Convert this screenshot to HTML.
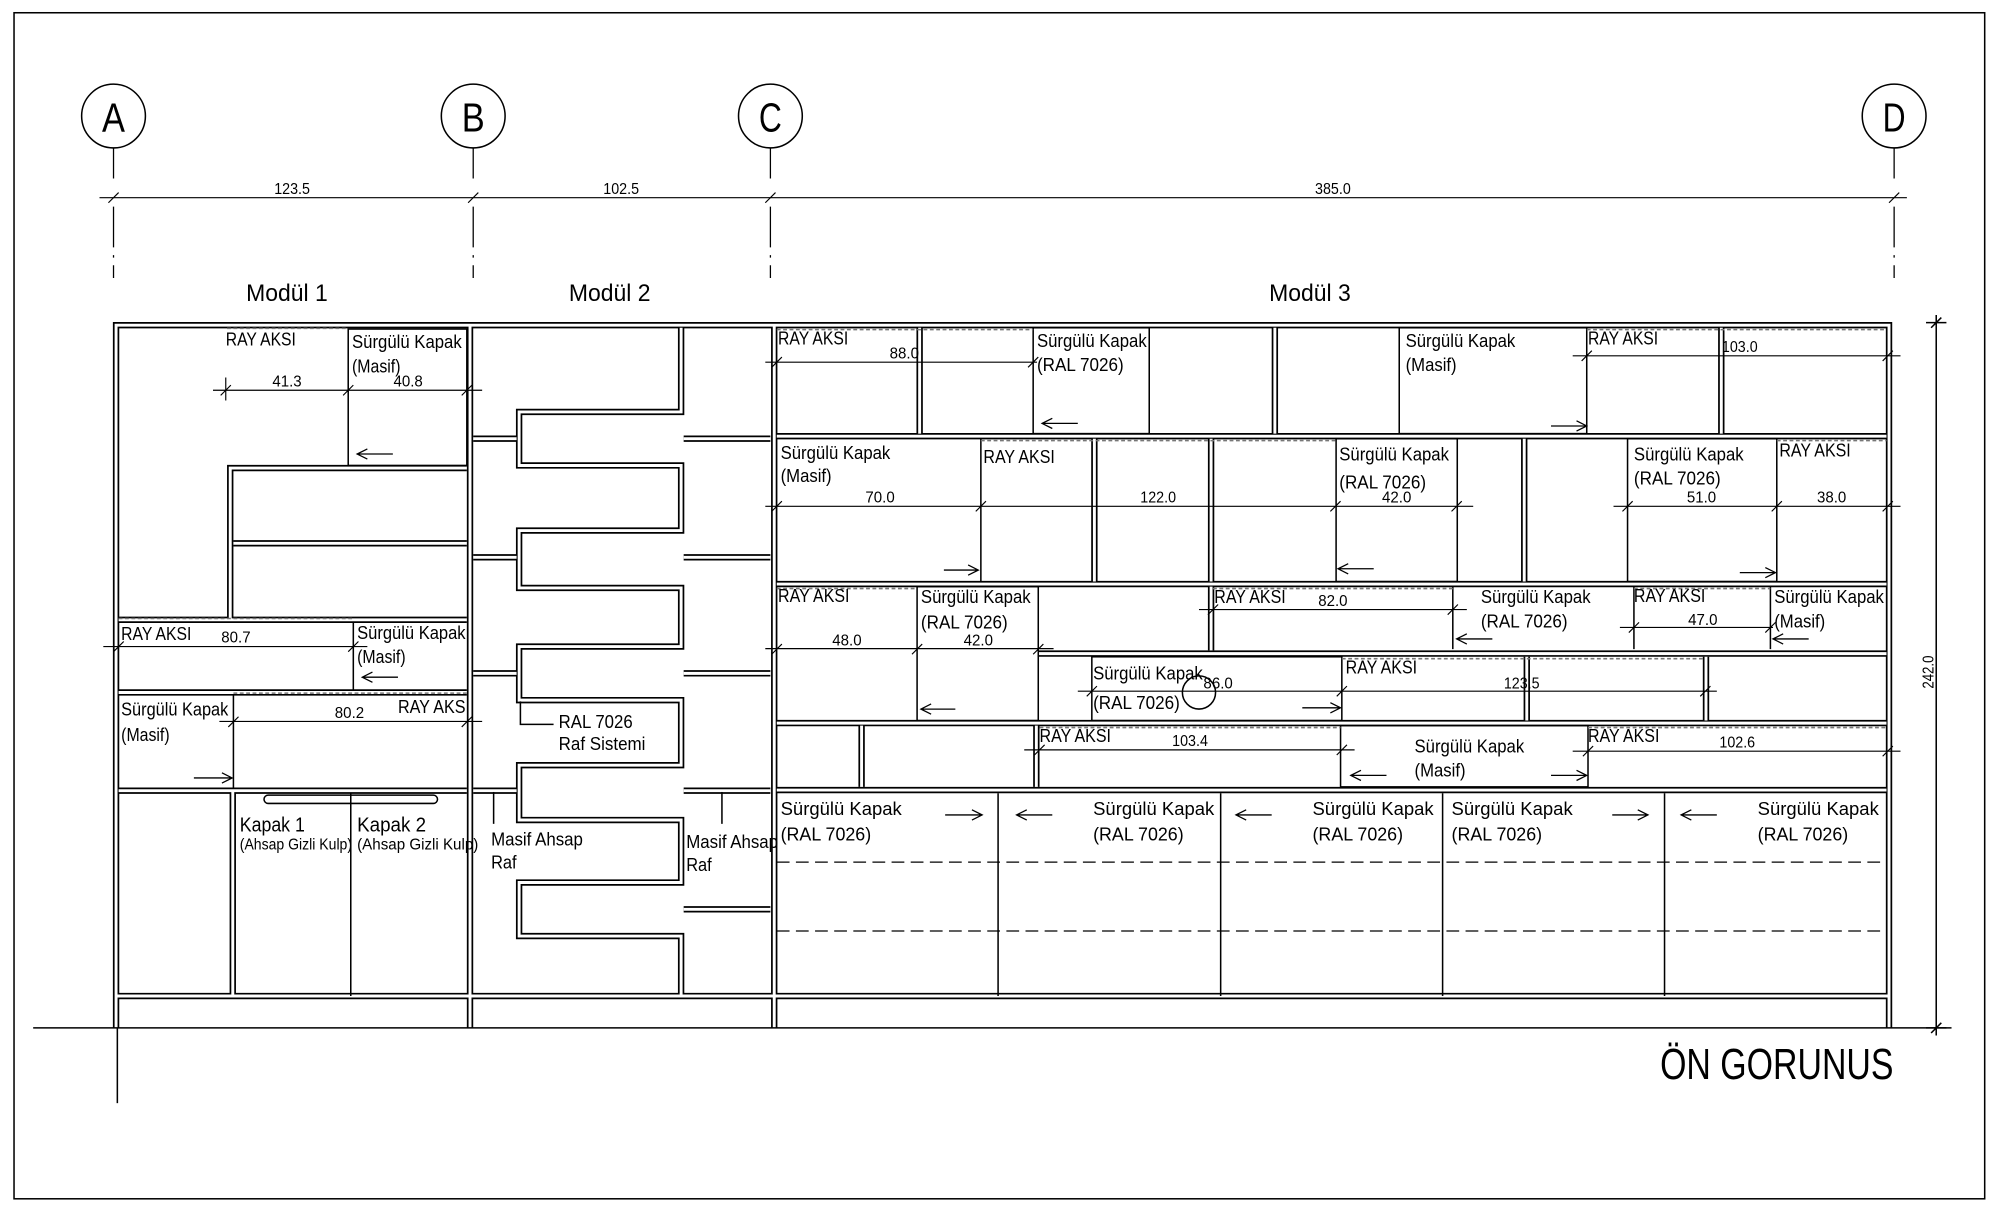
<!DOCTYPE html>
<html><head><meta charset="utf-8"><style>
html,body{margin:0;padding:0;background:#fff;}
svg{display:block;}
text{font-family:"Liberation Sans Narrow","Liberation Sans",sans-serif;fill:#000;}
.t{font-size:14.5px;}
.n{font-size:12px;}
.s{font-size:12px;}
</style></head><body>
<svg width="2000" height="1209" viewBox="0 0 1568 948" preserveAspectRatio="none" xmlns="http://www.w3.org/2000/svg">
<rect x="0" y="0" width="1568" height="948" fill="#fff"/>
<rect x="11" y="10" width="1545" height="930" fill="none" stroke="#000" stroke-width="1.2"/>
<defs>
<g id="dbl" fill="none">
<path d="M91 806V255H1481V806"/>
<path d="M368.5 255V806"/>
<path d="M607 255V806"/>
<path d="M91 781H1481"/>
<path d="M93 486H366M93 543H366M93 620H366"/>
<path d="M366 367H180.5V486"/>
<path d="M183 426H366"/>
<path d="M182.5 620V781"/>
<path d="M534 257V323H407V365H534V416H407V461H534V507H407V549H534V600H407V643H534V692H407V734H534V780"/>
<path d="M371 344H405M371 437H405M371 528H405M371 620H405"/>
<path d="M536 344H604M536 437H604M536 528H604M536 620H604M536 713H604"/>
<path d="M609 342H1479M609 458H1479M609 567H1479M609 619.5H1479M814 512.5H1479"/>
<path d="M721 257V340M999.5 257V340M1349.5 257V340"/>
<path d="M858 344V456M949.5 344V456M1195 344V456"/>
<path d="M949.5 460V510"/>
<path d="M1197 515V565M1337.5 515V565"/>
<path d="M675.5 569V617M812.5 569V617"/>
</g>
</defs>
<use href="#dbl" stroke="#000" stroke-width="5"/>
<use href="#dbl" stroke="#fff" stroke-width="2.3"/>

<g fill="none" stroke="#000" stroke-width="1.2">
<path d="M26 806H1530"/>
<path d="M92 806V865"/>
<g stroke-width="1" stroke-dasharray="24 22 32 6 2 6">
<path d="M89 116V218M371 116V218M604 116V218M1485 116V218"/>
</g>
<circle cx="89" cy="91" r="25"/>
<circle cx="371" cy="91" r="25"/>
<circle cx="604" cy="91" r="25"/>
<circle cx="1485" cy="91" r="25"/>
<rect x="273" y="258" width="93" height="107"/>
<path d="M277 488V541"/>
<path d="M183 545V618"/>
<path d="M275 622V781"/>
<rect x="207" y="623.5" width="136" height="6.5" rx="3.2"/>
<path d="M408 550V568H434"/>
<path d="M387 621V646"/>
<path d="M566 621V646"/>
<rect x="810" y="257" width="91" height="83"/>
<rect x="1097" y="257" width="147" height="83"/>
<path d="M769 344V456"/>
<rect x="1047.5" y="344" width="95" height="112"/>
<rect x="1276" y="344" width="117" height="112"/>
<rect x="719" y="460" width="95" height="105"/>
<path d="M1139 460V509M1281 460V509M1388 460V509"/>
<rect x="856" y="515" width="196" height="50"/>
<rect x="1051" y="569" width="194" height="48"/>
<path d="M782.5 622V781M957 622V781M1131 622V781M1305 622V781"/>
<ellipse cx="940" cy="543" rx="13" ry="13"/>
<path d="M1518 247V812M1510 253H1526M1510 806H1526M1514 257L1522 249M1514 810L1522 802"/>
</g>
<g fill="none" stroke="#000" stroke-width="1" stroke-dasharray="10 5">
<path d="M609 676H1479M609 730H1479"/>
</g>
<g fill="none" stroke="#777" stroke-width="1.2" stroke-dasharray="3 2">
<path d="M178 257.5H273M93 485H277M183 543.5H366"/>
<path d="M609 258.5H810M1244 258.5H1479M769 345.5H1047M1393 345.5H1479"/>
<path d="M609 461.5H719M951 461.5H1139M1281 461.5H1388M1052 516.5H1335M815 570.5H1051M1245 570.5H1479"/>
</g>

<g fill="none" stroke="#000" stroke-width="0.9">
<path d="M78 155H1495"/>
<path d="M85 159L93 151M367 159L375 151M600 159L608 151M1481 159L1489 151"/>
<path d="M167 306H378M177 296V314M173 310L181 302M269 310L277 302M362 310L370 302"/>
<path d="M81 507H288M89 511L97 503M273 511L281 503"/>
<path d="M172 565.7H378M179 570L187 562M362 570L370 562"/>
<path d="M600 284H813M605 288L613 280M806 288L814 280"/>
<path d="M600 397H1155M605 401L613 393M765 401L773 393M1043 401L1051 393M1138 401L1146 393"/>
<path d="M1265 397H1490M1272 401L1280 393M1389 401L1397 393M1476 401L1484 393"/>
<path d="M1233 279H1490M1240 283L1248 275M1476 283L1484 275"/>
<path d="M600 508.6H826M605 513L613 505M715 513L723 505M810 513L818 505"/>
<path d="M940 478H1150M947 482L955 474M1135 482L1143 474"/>
<path d="M1270 492H1390M1277 496L1285 488M1384 496L1392 488"/>
<path d="M845 542H1346M852 546L860 538M1048 546L1056 538M1333 546L1341 538"/>
<path d="M803 588H1062M811 592L819 584M1048 592L1056 584"/>
<path d="M1233 589H1490M1241 593L1249 585M1476 593L1484 585"/>
</g>

<g fill="none" stroke="#000" stroke-width="1">
<path d="M308 356H280M288 352L280 356L288 360"/>
<path d="M312 531H284M292 527L284 531L292 535"/>
<path d="M152 610H182M174 606L182 610L174 614"/>
<path d="M845 332H817M825 328L817 332L825 336"/>
<path d="M1216 334H1244M1236 330L1244 334L1236 338"/>
<path d="M740 447H767M759 443L767 447L759 451"/>
<path d="M1077 446H1049M1057 442L1049 446L1057 450"/>
<path d="M1364 449H1392M1384 445L1392 449L1384 453"/>
<path d="M749 556H722M730 552L722 556L730 560"/>
<path d="M1170 501H1142M1150 497L1142 501L1150 505"/>
<path d="M1418 501H1390M1398 497L1390 501L1398 505"/>
<path d="M1021 555H1051M1043 551L1051 555L1043 559"/>
<path d="M1087 608H1059M1067 604L1059 608L1067 612"/>
<path d="M1216 608H1244M1236 604L1244 608L1236 612"/>
<path d="M741 639H770M762 635L770 639L762 643"/>
<path d="M825 639H797M805 635L797 639L805 643"/>
<path d="M997 639H969M977 635L969 639L977 643"/>
<path d="M1264 639H1292M1284 635L1292 639L1284 643"/>
<path d="M1346 639H1318M1326 635L1318 639L1326 643"/>
</g>

<g text-anchor="middle" style="font-size:32px">
<text x="89" y="103" textLength="18" lengthAdjust="spacingAndGlyphs">A</text><text x="371" y="103" textLength="18" lengthAdjust="spacingAndGlyphs">B</text><text x="604" y="103" textLength="18" lengthAdjust="spacingAndGlyphs">C</text><text x="1485" y="103" textLength="18" lengthAdjust="spacingAndGlyphs">D</text>
</g>
<g class="n" text-anchor="middle">
<text x="229" y="152" textLength="28" lengthAdjust="spacingAndGlyphs">123.5</text><text x="487" y="152" textLength="28" lengthAdjust="spacingAndGlyphs">102.5</text><text x="1045" y="152" textLength="28" lengthAdjust="spacingAndGlyphs">385.0</text>
<text x="225" y="303" textLength="23" lengthAdjust="spacingAndGlyphs">41.3</text><text x="320" y="303" textLength="23" lengthAdjust="spacingAndGlyphs">40.8</text>
<text x="185" y="504" textLength="23" lengthAdjust="spacingAndGlyphs">80.7</text><text x="274" y="563" textLength="23" lengthAdjust="spacingAndGlyphs">80.2</text>
<text x="709" y="281" textLength="23" lengthAdjust="spacingAndGlyphs">88.0</text><text x="1364" y="276" textLength="28" lengthAdjust="spacingAndGlyphs">103.0</text>
<text x="690" y="394" textLength="23" lengthAdjust="spacingAndGlyphs">70.0</text><text x="908" y="394" textLength="28" lengthAdjust="spacingAndGlyphs">122.0</text><text x="1095" y="394" textLength="23" lengthAdjust="spacingAndGlyphs">42.0</text><text x="1334" y="394" textLength="23" lengthAdjust="spacingAndGlyphs">51.0</text><text x="1436" y="394" textLength="23" lengthAdjust="spacingAndGlyphs">38.0</text>
<text x="664" y="506" textLength="23" lengthAdjust="spacingAndGlyphs">48.0</text><text x="767" y="506" textLength="23" lengthAdjust="spacingAndGlyphs">42.0</text><text x="1045" y="475" textLength="23" lengthAdjust="spacingAndGlyphs">82.0</text><text x="1335" y="490" textLength="23" lengthAdjust="spacingAndGlyphs">47.0</text>
<text x="955" y="540" textLength="23" lengthAdjust="spacingAndGlyphs">86.0</text><text x="1193" y="540" textLength="28" lengthAdjust="spacingAndGlyphs">123.5</text>
<text x="933" y="585" textLength="28" lengthAdjust="spacingAndGlyphs">103.4</text><text x="1362" y="586" textLength="28" lengthAdjust="spacingAndGlyphs">102.6</text>
<text x="1516" y="527" transform="rotate(-90 1516 527)" textLength="26" lengthAdjust="spacingAndGlyphs">242.0</text>
</g>
<g text-anchor="middle" style="font-size:19px">
<text x="225" y="236" textLength="64" lengthAdjust="spacingAndGlyphs">Modül 1</text><text x="478" y="236" textLength="64" lengthAdjust="spacingAndGlyphs">Modül 2</text><text x="1027" y="236" textLength="64" lengthAdjust="spacingAndGlyphs">Modül 3</text>
</g>
<text x="1393" y="846" text-anchor="middle" style="font-size:34px" textLength="183" lengthAdjust="spacingAndGlyphs">ÖN GORUNUS</text>
<g class="t">
<text x="177" y="271" textLength="55" lengthAdjust="spacingAndGlyphs">RAY AKSI</text>
<text x="276" y="273" textLength="86" lengthAdjust="spacingAndGlyphs">Sürgülü Kapak</text><text x="276" y="292" textLength="38" lengthAdjust="spacingAndGlyphs">(Masif)</text>
<text x="95" y="502" textLength="55" lengthAdjust="spacingAndGlyphs">RAY AKSI</text>
<text x="280" y="501" textLength="85" lengthAdjust="spacingAndGlyphs">Sürgülü Kapak</text><text x="280" y="520" textLength="38" lengthAdjust="spacingAndGlyphs">(Masif)</text>
<text x="95" y="561" textLength="84" lengthAdjust="spacingAndGlyphs">Sürgülü Kapak</text><text x="95" y="581" textLength="38" lengthAdjust="spacingAndGlyphs">(Masif)</text>
<text x="312" y="559" textLength="53" lengthAdjust="spacingAndGlyphs">RAY AKS</text>
<text x="188" y="652" style="font-size:16px" textLength="51" lengthAdjust="spacingAndGlyphs">Kapak 1</text>
<text x="280" y="652" style="font-size:16px" textLength="54" lengthAdjust="spacingAndGlyphs">Kapak 2</text>
<text x="438" y="571" textLength="58" lengthAdjust="spacingAndGlyphs">RAL 7026</text><text x="438" y="588" textLength="68" lengthAdjust="spacingAndGlyphs">Raf Sistemi</text>
<text x="385" y="663" textLength="72" lengthAdjust="spacingAndGlyphs">Masif Ahsap</text><text x="385" y="681" textLength="20" lengthAdjust="spacingAndGlyphs">Raf</text>
<text x="538" y="665" textLength="72" lengthAdjust="spacingAndGlyphs">Masif Ahsap</text><text x="538" y="683" textLength="20" lengthAdjust="spacingAndGlyphs">Raf</text>
<text x="610" y="270" textLength="55" lengthAdjust="spacingAndGlyphs">RAY AKSI</text>
<text x="813" y="272" textLength="86" lengthAdjust="spacingAndGlyphs">Sürgülü Kapak</text><text x="813" y="291" textLength="68" lengthAdjust="spacingAndGlyphs">(RAL 7026)</text>
<text x="1102" y="272" textLength="86" lengthAdjust="spacingAndGlyphs">Sürgülü Kapak</text><text x="1102" y="291" textLength="40" lengthAdjust="spacingAndGlyphs">(Masif)</text>
<text x="1245" y="270" textLength="55" lengthAdjust="spacingAndGlyphs">RAY AKSI</text>
<text x="612" y="360" textLength="86" lengthAdjust="spacingAndGlyphs">Sürgülü Kapak</text><text x="612" y="378" textLength="40" lengthAdjust="spacingAndGlyphs">(Masif)</text>
<text x="771" y="363" textLength="56" lengthAdjust="spacingAndGlyphs">RAY AKSI</text>
<text x="1050" y="361" textLength="86" lengthAdjust="spacingAndGlyphs">Sürgülü Kapak</text><text x="1050" y="383" textLength="68" lengthAdjust="spacingAndGlyphs">(RAL 7026)</text>
<text x="1281" y="361" textLength="86" lengthAdjust="spacingAndGlyphs">Sürgülü Kapak</text><text x="1281" y="380" textLength="68" lengthAdjust="spacingAndGlyphs">(RAL 7026)</text>
<text x="1395" y="358" textLength="56" lengthAdjust="spacingAndGlyphs">RAY AKSI</text>
<text x="610" y="472" textLength="56" lengthAdjust="spacingAndGlyphs">RAY AKSI</text>
<text x="722" y="473" textLength="86" lengthAdjust="spacingAndGlyphs">Sürgülü Kapak</text><text x="722" y="493" textLength="68" lengthAdjust="spacingAndGlyphs">(RAL 7026)</text>
<text x="952" y="473" textLength="56" lengthAdjust="spacingAndGlyphs">RAY AKSI</text>
<text x="1161" y="473" textLength="86" lengthAdjust="spacingAndGlyphs">Sürgülü Kapak</text><text x="1161" y="492" textLength="68" lengthAdjust="spacingAndGlyphs">(RAL 7026)</text>
<text x="1281" y="472" textLength="56" lengthAdjust="spacingAndGlyphs">RAY AKSI</text>
<text x="1391" y="473" textLength="86" lengthAdjust="spacingAndGlyphs">Sürgülü Kapak</text><text x="1391" y="492" textLength="40" lengthAdjust="spacingAndGlyphs">(Masif)</text>
<text x="857" y="533" textLength="86" lengthAdjust="spacingAndGlyphs">Sürgülü Kapak</text><text x="857" y="556" textLength="68" lengthAdjust="spacingAndGlyphs">(RAL 7026)</text>
<text x="1055" y="528" textLength="56" lengthAdjust="spacingAndGlyphs">RAY AKSI</text>
<text x="815" y="582" textLength="56" lengthAdjust="spacingAndGlyphs">RAY AKSI</text>
<text x="1109" y="590" textLength="86" lengthAdjust="spacingAndGlyphs">Sürgülü Kapak</text><text x="1109" y="609" textLength="40" lengthAdjust="spacingAndGlyphs">(Masif)</text>
<text x="1245" y="582" textLength="56" lengthAdjust="spacingAndGlyphs">RAY AKSI</text>
<text x="612" y="639" textLength="95" lengthAdjust="spacingAndGlyphs">Sürgülü Kapak</text><text x="612" y="659" textLength="71" lengthAdjust="spacingAndGlyphs">(RAL 7026)</text>
<text x="857" y="639" textLength="95" lengthAdjust="spacingAndGlyphs">Sürgülü Kapak</text><text x="857" y="659" textLength="71" lengthAdjust="spacingAndGlyphs">(RAL 7026)</text>
<text x="1029" y="639" textLength="95" lengthAdjust="spacingAndGlyphs">Sürgülü Kapak</text><text x="1029" y="659" textLength="71" lengthAdjust="spacingAndGlyphs">(RAL 7026)</text>
<text x="1138" y="639" textLength="95" lengthAdjust="spacingAndGlyphs">Sürgülü Kapak</text><text x="1138" y="659" textLength="71" lengthAdjust="spacingAndGlyphs">(RAL 7026)</text>
<text x="1378" y="639" textLength="95" lengthAdjust="spacingAndGlyphs">Sürgülü Kapak</text><text x="1378" y="659" textLength="71" lengthAdjust="spacingAndGlyphs">(RAL 7026)</text>
</g>
<g class="s">
<text x="188" y="666" textLength="88" lengthAdjust="spacingAndGlyphs">(Ahsap Gizli Kulp)</text>
<text x="280" y="666" textLength="95" lengthAdjust="spacingAndGlyphs">(Ahsap Gizli Kulp)</text>
</g>
</svg>
</body></html>
